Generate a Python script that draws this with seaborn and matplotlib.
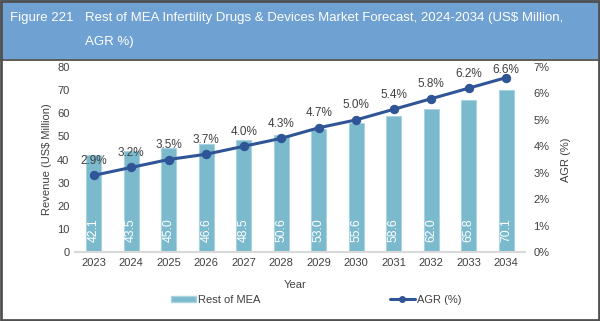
import matplotlib
matplotlib.use("Agg")
import matplotlib.pyplot as plt
import seaborn as sns
import numpy as np
import pandas as pd
from matplotlib.patches import Rectangle
from matplotlib.lines import Line2D
from matplotlib.patches import Patch

years = ["2023", "2024", "2025", "2026", "2027", "2028", "2029", "2030", "2031", "2032", "2033", "2034"]
revenue = [42.1, 43.5, 45.0, 46.6, 48.5, 50.6, 53.0, 55.6, 58.6, 62.0, 65.8, 70.1]
agr = [2.9, 3.2, 3.5, 3.7, 4.0, 4.3, 4.7, 5.0, 5.4, 5.8, 6.2, 6.6]
rev_ticks = [0, 10, 20, 30, 40, 50, 60, 70, 80]
agr_ticks = [0, 1, 2, 3, 4, 5, 6, 7]

sns.set_theme(style="white")
plt.rcParams['font.family'] = ['Liberation Sans', 'DejaVu Sans']

BAR = "#7bb9cc"
LINE = "#2f5597"
TXT = "#404040"
FS = 8

df = pd.DataFrame({"Year": years, "Revenue": revenue, "AGR": agr})

fig = plt.figure(figsize=(6.0, 3.21), dpi=100)
W, H = 600, 321

# header band
fig.patches.append(Rectangle((0, (H - 59) / H), 1, 59 / H, transform=fig.transFigure,
                             facecolor="#6fa1d2", edgecolor="none", zorder=0))
fig.lines.append(Line2D([0, 1], [(H - 59.5) / H] * 2, transform=fig.transFigure, color="#404040", lw=1.2))
fig.patches.append(Rectangle((0.002, 0.003), 0.996, 0.994, transform=fig.transFigure,
                             facecolor="none", edgecolor="#505050", lw=2, zorder=10))
fig.text(10 / W, 1 - 18 / H, "Figure 221", color="white", fontsize=9.5, va="center", ha="left")
fig.text(85 / W, 1 - 18 / H, "Rest of MEA Infertility Drugs & Devices Market Forecast, 2024-2034 (US$ Million,",
         color="white", fontsize=9.5, va="center", ha="left")
fig.text(85 / W, 1 - 42 / H, "AGR %)", color="white", fontsize=9.5, va="center", ha="left")

ax = fig.add_axes([75 / W, (H - 252) / H, 450 / W, 185 / H])
sns.barplot(data=df, x="Year", y="Revenue", color=BAR, width=0.4, edgecolor="#a9d3e0",
            linewidth=0.8, saturation=1, ax=ax, zorder=2)
ax.set_ylim(0, 80)
ax.set_xlim(-0.5, 11.5)
ax.set_yticks(rev_ticks)
ax.set_yticklabels([str(t) for t in rev_ticks])
ax.tick_params(axis="both", labelsize=FS, colors=TXT, length=0, pad=4)
ax.set_ylabel("Revenue (US$ Million)", fontsize=FS, color=TXT, labelpad=4)
ax.set_xlabel("Year", fontsize=FS, color=TXT)
ax.xaxis.set_label_coords((295 - 75) / 450, -(285 - 252) / 185)
ax.xaxis.label.set_va("center")
for s in ["top", "right", "left"]:
    ax.spines[s].set_visible(False)
ax.spines["bottom"].set_color("#d9d9d9")
ax.spines["bottom"].set_linewidth(1.5)

for i, v in enumerate(revenue):
    ax.text(i, 4.3, f"{v:.1f}", rotation=90, ha="center", va="bottom", color="white", fontsize=8.8, zorder=3)

ax2 = ax.twinx()
sns.lineplot(x=np.arange(len(years)), y=agr, color=LINE, marker="o", markersize=6,
             markeredgecolor=LINE, linewidth=2.2, ax=ax2, zorder=4)
ax2.set_ylim(0, 7)
ax2.set_yticks(agr_ticks)
ax2.set_yticklabels([f"{t}%" for t in agr_ticks])
ax2.tick_params(axis="y", labelsize=FS, colors=TXT, length=0, pad=6)
ax2.set_ylabel("AGR (%)", fontsize=FS, color=TXT, labelpad=8)
for s in ["top", "right", "left", "bottom"]:
    ax2.spines[s].set_visible(False)
for i, v in enumerate(agr):
    ax2.text(i, min(v + 0.55, 6.9), f"{v:.1f}%", ha="center", va="center", color=TXT, fontsize=8.5)

handles = [Patch(facecolor=BAR, edgecolor="#a9d3e0"),
           Line2D([0], [0], color=LINE, lw=2.2, marker="o", markersize=4)]
fig.legend(handles, ["Rest of MEA", "AGR (%)"], loc="center left",
           bbox_to_anchor=(165 / W, 1 - 300 / H), ncol=2, frameon=False, fontsize=FS, borderpad=0,
           handlelength=2.25, handleheight=0.55, handletextpad=0.25, columnspacing=11.6, labelcolor=TXT)

fig.savefig("out.png", dpi=100)
